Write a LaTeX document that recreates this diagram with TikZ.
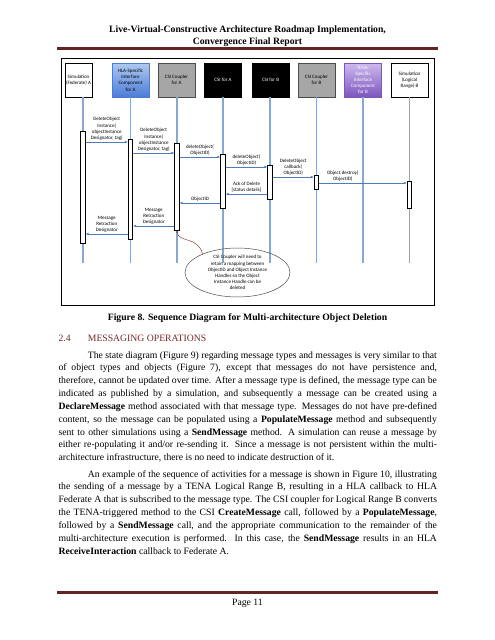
\documentclass[tikz,border=0pt]{standalone}
\usepackage{fontspec}
\setmainfont{Liberation Serif}
\newfontfamily\diagfont{Carlito}
\usetikzlibrary{arrows.meta,shapes.geometric}
\definecolor{rulecol}{RGB}{99,36,35}
\definecolor{headcol}{RGB}{112,42,44}
\definecolor{lifecol}{RGB}{135,168,210}
\definecolor{msgcol}{RGB}{79,125,185}
\definecolor{greybox}{RGB}{166,166,166}
\definecolor{hlatop}{RGB}{175,200,240}
\definecolor{hlabot}{RGB}{75,125,215}
\definecolor{tenatop}{RGB}{205,185,238}
\definecolor{tenabot}{RGB}{125,85,190}
\definecolor{calloutcol}{RGB}{140,70,60}
\newcommand{\jl}[2]{\hbox to #1pt{#2}}
\begin{document}
\begin{tikzpicture}[x=1pt,y=-1pt,
  hdr/.style={draw=black, line width=0.5pt, minimum width=37pt, minimum height=34pt, inner sep=0pt, align=center, font=\diagfont\fontsize{5}{6.2}\selectfont},
  life/.style={draw=lifecol, line width=1.4pt},
  bar/.style={draw=black, fill=white, line width=0.6pt, minimum width=4.5pt, inner sep=0pt},
  msg/.style={draw=msgcol, line width=0.8pt, -{Latex[length=3pt,width=2.6pt]}},
  lbl/.style={font=\diagfont\fontsize{5}{6.3}\selectfont, align=center, inner sep=1pt, text=black},
  body/.style={anchor=base west, inner sep=0pt, font=\fontsize{9.7}{12.85}\selectfont},
  bodyc/.style={anchor=base, inner sep=0pt, font=\fontsize{9.7}{12.85}\selectfont}
]
\useasboundingbox (0,0) rectangle (495,640);
\fill[white] (0,0) rectangle (495,640);

% page header
\node[bodyc, font=\bfseries\fontsize{9.7}{12.85}\selectfont] (h1) at (247.5,32.5) {Live-Virtual-Constructive Architecture Roadmap Implementation,};
\node[bodyc, font=\bfseries\fontsize{9.7}{12.85}\selectfont] (h2) at (247.5,44) {Convergence Final Report};
\fill[rulecol] (57,46.5) rectangle (438,49.5);

% diagram frame
\draw[line width=0.8pt] (61.5,58.5) rectangle (434,305);

% header boxes
\node[hdr, minimum width=27pt, fill=white] (hSA) at (78.5,80) {Simulation\\(Federate) A};
\node[hdr, draw=hlabot, top color=hlatop, bottom color=hlabot] (hHLA) at (130.5,80) {HLA-Specific\\Interface\\Component\\for A};
\node[hdr, draw=gray!60!black, fill=greybox] (hCA) at (176.5,80) {CSI Coupler\\for A};
\node[hdr, fill=black, text=white] (hIA) at (223,80) {CSI for A};
\node[hdr, fill=black, text=white] (hIB) at (270.5,80) {CSI for B};
\node[hdr, draw=gray!60!black, fill=greybox] (hCB) at (316.5,80) {CSI Coupler\\for B};
\node[hdr, draw=tenabot, top color=tenatop, bottom color=tenabot, text=white] (hTB) at (363,80) {TENA-\\Specific\\Interface\\Component\\for B};
\node[hdr, fill=white] (hSB) at (409.5,80) {Simulation\\(Logical\\Range) B};

% lifeline ends
\coordinate (eSA) at (83,263);
\coordinate (eHLA) at (130.5,263);
\coordinate (eCA) at (177,263);
\coordinate (eIA) at (223,263);
\coordinate (eIB) at (270,263);
\coordinate (eCB) at (316.5,263);
\coordinate (eTB) at (363,263);
\coordinate (eSB) at (409.5,263);
\foreach \e/\h in {eSA/hSA,eHLA/hHLA,eCA/hCA,eIA/hIA,eIB/hIB,eCB/hCB,eTB/hTB,eSB/hSB}
  \draw[life] (\e |- \h.south) -- (\e);

% activation bars
\node[bar, minimum height=112pt] (bSA) at (83,187) {};
\node[bar, minimum height=100pt] (bHLA) at (130.5,189) {};
\node[bar, minimum height=87pt] (bCA) at (177,186.5) {};
\node[bar, minimum height=54pt] (bIA) at (223,181) {};
\node[bar, minimum height=34pt] (bIB) at (270,182) {};
\node[bar, minimum height=14pt] (bCB) at (316.5,182) {};
\node[bar, minimum height=27pt] (bSB) at (409.5,194.5) {};

% messages
\draw[msg] (bSA.east |- 0,142) -- node[above, lbl] {DeleteObject\\Instance(\\objectInstance\\Designator, tag)} (bHLA.west |- 0,142);
\draw[msg] (bHLA.east |- 0,153) -- node[above, lbl] {DeleteObject\\Instance(\\objectInstance\\Designator, tag)} (bCA.west |- 0,153);
\draw[msg] (bCA.east |- 0,157) -- node[above, lbl] {deleteObject(\\ObjectID)} (bIA.west |- 0,157);
\draw[msg] (bIA.east |- 0,167) -- node[above, lbl] {deleteObject(\\ObjectID)} (bIB.west |- 0,167);
\draw[msg] (bIB.east |- 0,177) -- node[above, lbl] {DeleteObject\\callback(\\ObjectID)} (bCB.west |- 0,177);
\draw[msg] (bCB.east |- 0,183) -- node[above, lbl, pos=0.27] {Object.destroy(\\ObjectID)} (bSB.west |- 0,183);
\draw[msg] (bIB.west |- 0,194) -- node[above, lbl] {Ack of Delete\\{[}status details{]}} (bIA.east |- 0,194);
\draw[msg] (bIA.west |- 0,203) -- node[above, lbl] {ObjectID} (bCA.east |- 0,203);
\draw[msg] (bCA.west |- 0,226) -- node[above, lbl] {Message\\Retraction\\Designator} (bHLA.east |- 0,226);
\draw[msg] (bHLA.west |- 0,234) -- node[above, lbl] {Message\\Retraction\\Designator} (bSA.east |- 0,234);

% callout
\node[ellipse, draw=black!70, line width=0.5pt, minimum width=105pt, minimum height=49pt, inner sep=0pt] (note) at (237.5,272.5) {};
\node[lbl, font=\diagfont\fontsize{5}{6.1}\selectfont] (notetxt) at (note.center) {CSI Coupler will need to\\retain a mapping between\\ObjectID and Object Instance\\Handles so the Object\\Instance Handle can be\\deleted};
\draw[calloutcol, line width=0.5pt, -{Stealth[length=2.5pt,width=2pt]}] (note.152) .. controls (198,236) and (178,243) .. (bCA.south);

% caption
\node[bodyc, font=\bfseries\fontsize{9.7}{12.85}\selectfont] (cap) at (247.5,320.5) {Figure 8. Sequence Diagram for Multi-architecture Object Deletion};

% section heading
\node[body, text=headcol] (secn) at (58.3,341.5) {2.4};
\node[body, text=headcol] (sect) at (87.7,341.5) {MESSAGING OPERATIONS};

% paragraph 1
\node[body] (a1) at (87.7,358) {\jl{349}{The state diagram (Figure 9) regarding message types and messages is very similar to that}};
\node[body] (a2) at (58.3,370.85) {\jl{378.5}{of object types and objects (Figure 7), except that messages do not have persistence and,}};
\node[body] (a3) at (58.3,383.7) {\jl{378.5}{therefore, cannot be updated over time. After a message type is defined, the message type can be}};
\node[body] (a4) at (58.3,396.55) {\jl{378.5}{indicated as published by a simulation, and subsequently a message can be created using a}};
\node[body] (a5) at (58.3,409.4) {\jl{378.5}{\textbf{DeclareMessage} method associated with that message type. Messages do not have pre-defined}};
\node[body] (a6) at (58.3,422.25) {\jl{378.5}{content, so the message can be populated using a \textbf{PopulateMessage} method and subsequently}};
\node[body] (a7) at (58.3,435.1) {\jl{378.5}{sent to other simulations using a \textbf{SendMessage} method. A simulation can reuse a message by}};
\node[body] (a8) at (58.3,447.95) {\jl{378.5}{either re-populating it and/or re-sending it. Since a message is not persistent within the multi-}};
\node[body] (a9) at (58.3,460.8) {architecture infrastructure, there is no need to indicate destruction of it.};

% paragraph 2
\node[body] (b1) at (87.7,477) {\jl{349}{An example of the sequence of activities for a message is shown in Figure 10, illustrating}};
\node[body] (b2) at (58.3,489.85) {\jl{378.5}{the sending of a message by a TENA Logical Range B, resulting in a HLA callback to HLA}};
\node[body] (b3) at (58.3,502.7) {\jl{378.5}{Federate A that is subscribed to the message type. The CSI coupler for Logical Range B converts}};
\node[body] (b4) at (58.3,515.55) {\jl{378.5}{the TENA-triggered method to the CSI \textbf{CreateMessage} call, followed by a \textbf{PopulateMessage},}};
\node[body] (b5) at (58.3,528.4) {\jl{378.5}{followed by a \textbf{SendMessage} call, and the appropriate communication to the remainder of the}};
\node[body] (b6) at (58.3,541.25) {\jl{378.5}{multi-architecture execution is performed. In this case, the \textbf{SendMessage} results in an HLA}};
\node[body] (b7) at (58.3,554.1) {\textbf{ReceiveInteraction} callback to Federate A.};

% footer
\fill[rulecol] (57,591) rectangle (438,594);
\node[bodyc] (pg) at (247.5,605.5) {Page 11};
\end{tikzpicture}
\end{document}
